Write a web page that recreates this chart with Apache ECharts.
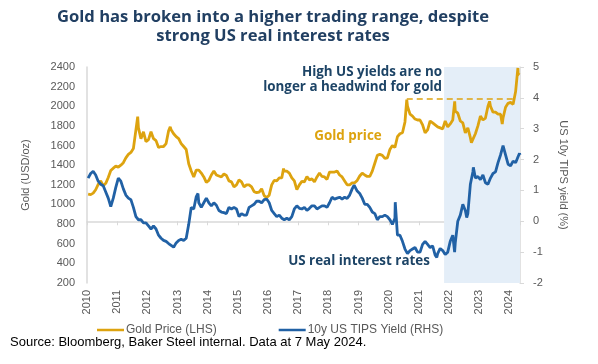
<!DOCTYPE html>
<html>
<head>
<meta charset="utf-8">
<script src="https://cdn.jsdelivr.net/npm/echarts@6/dist/echarts.min.js"></script>
<style>
html,body{margin:0;padding:0;background:#fff;}
#chart{width:598px;height:364px;}
</style>
</head>
<body>
<div id="chart"></div>
<script>
// ---- Data ----
const xTickYears = [2010,2011,2012,2013,2014,2015,2016,2017,2018,2019,2020,2021,2022,2023,2024];
const lastDate = '2024-05-07';

// Gold price, monthly (USD/oz), Jan 2010 .. May 2024
const goldMonthly = [
  1105,1100,1115,1150,1205,1240,1190,1215,1275,1345,1370,1390,
  1380,1400,1425,1475,1510,1530,1570,1760,1780,1670,1740,1640,
  1660,1740,1670,1650,1580,1590,1590,1620,1750,1760,1720,1690,
  1670,1620,1590,1560,1415,1340,1280,1350,1350,1320,1280,1225,
  1245,1300,1340,1300,1290,1280,1310,1295,1240,1230,1180,1200,
  1250,1230,1180,1200,1200,1180,1130,1120,1125,1160,1090,1070,
  1095,1200,1245,1240,1270,1270,1340,1340,1320,1270,1240,1150,
  1200,1235,1230,1285,1250,1260,1230,1280,1320,1285,1280,1255,
  1330,1330,1330,1340,1300,1280,1240,1200,1200,1220,1220,1245,
  1290,1320,1300,1285,1285,1340,1420,1500,1510,1500,1470,1475,
  1560,1600,1580,1690,1720,1730,1840,2000,1920,1900,1870,1860,
  1860,1810,1730,1760,1850,1830,1810,1790,1780,1770,1850,1790,
  1820,1860,1950,1930,1850,1830,1730,1780,1680,1650,1720,1800,
  1900,1860,1880,2000,2000,1940,1940,1920,1920,1880,1990,2030,
  2040,2020,2150,2330,2320
];
// Gold notable extremes
const goldExtremeDates  = ['2011-09-06','2012-10-04','2015-12-17','2016-07-06','2020-08-06','2022-03-08','2022-09-28','2023-05-04','2023-10-05','2024-04-12','2024-05-07'];
const goldExtremeValues = [1895,1790,1050,1365,2067,2050,1630,2050,1820,2390,2315];

// US 10y TIPS yield, monthly (%), Jan 2010 .. May 2024
const tipsMonthly = [
  1.40,1.55,1.62,1.50,1.30,1.20,1.15,0.95,0.75,0.48,0.75,1.10,
  1.40,1.30,1.05,0.85,0.75,0.70,0.45,0.15,0.05,0.05,-0.05,-0.05,
  -0.15,-0.25,-0.15,-0.25,-0.45,-0.55,-0.62,-0.65,-0.72,-0.78,-0.84,-0.70,
  -0.62,-0.58,-0.62,-0.55,-0.10,0.45,0.40,0.80,0.60,0.45,0.60,0.75,
  0.60,0.50,0.60,0.52,0.35,0.30,0.28,0.25,0.45,0.40,0.45,0.40,
  0.15,0.25,0.20,0.20,0.45,0.50,0.55,0.65,0.65,0.60,0.70,0.72,
  0.60,0.35,0.25,0.15,0.20,0.10,0.05,0.10,0.05,0.15,0.40,0.50,
  0.42,0.40,0.45,0.35,0.42,0.50,0.50,0.40,0.45,0.50,0.50,0.45,
  0.60,0.78,0.72,0.75,0.78,0.72,0.78,0.74,0.85,1.05,1.15,0.98,
  0.90,0.75,0.55,0.55,0.45,0.30,0.25,0.05,0.15,0.15,0.20,0.15,
  0.05,-0.10,0.10,-0.45,-0.45,-0.65,-0.90,-1.05,-0.95,-0.90,-0.85,-1.00,
  -1.00,-0.75,-0.65,-0.75,-0.85,-0.80,-1.10,-1.05,-0.88,-0.95,-1.08,-1.00,
  -0.65,-0.45,-0.70,0.00,0.20,0.55,0.35,0.25,1.20,1.60,1.40,1.45,
  1.35,1.50,1.25,1.20,1.40,1.55,1.60,1.90,2.15,2.45,2.15,1.85,
  1.80,1.95,1.90,2.10,2.20
];
const tipsExtremeDates  = ['2012-11-15','2013-09-05','2018-11-08','2020-03-19','2021-08-04','2022-03-07','2022-08-01','2022-10-21','2023-10-19','2024-05-07'];
const tipsExtremeValues = [-0.87,0.90,1.17,0.62,-1.17,-1.00,0.12,1.75,2.50,2.15];

// Highlight period and reference level
const shadeStart = '2021-11-01';
const refLevelGold = 2075;
const refLineStart = '2020-08-06';
const refLineEnd = '2024-02-15';

// ---- Helpers ----
function toYear(s){
  const p = s.split('-').map(Number);
  return p[0] + ((p[1]-1) + (p[2]-1)/31)/12;
}
const monthDates = [];
for (let y = 2010; y <= 2024; y++) {
  for (let m = 1; m <= 12; m++) {
    if (y === 2024 && m > 5) break;
    monthDates.push(y + '-' + String(m).padStart(2,'0') + '-' + (y === 2024 && m === 5 ? '01' : '15'));
  }
}
function buildSeries(dates, vals, exDates, exVals){
  const pts = dates.map((d,i)=>[toYear(d), vals[i]]);
  exDates.forEach((d,i)=>pts.push([toYear(d), exVals[i]]));
  pts.sort((a,b)=>a[0]-b[0]);
  return pts;
}
const goldData = buildSeries(monthDates, goldMonthly, goldExtremeDates, goldExtremeValues);
const tipsData = buildSeries(monthDates, tipsMonthly, tipsExtremeDates, tipsExtremeValues);

const GOLD = '#DDA30F';
const BLUE = '#2161A5';
const NAVY = '#1D4466';
const GREY = '#595959';
const AXIS = '#D9D9D9';

const chart = echarts.init(document.getElementById('chart'), null, {renderer:'canvas'});
chart.setOption({
  animation: false,
  backgroundColor: '#ffffff',
  title: {
    text: 'Gold has broken into a higher trading range, despite\nstrong US real interest rates',
    left: 268, top: 3, textAlign: 'center',
    textStyle: {fontFamily: 'Open Sans', fontWeight: 'bold', fontSize: 16.6, color: '#213F62', lineHeight: 19}
  },
  legend: {
    left: 92, top: 319,
    itemWidth: 27, itemHeight: 2.5, itemGap: 62,
    icon: 'rect',
    textStyle: {fontFamily: 'Liberation Sans', fontSize: 12, color: GREY, padding:[0,0,0,-3]},
    data: ['Gold Price (LHS)', '10y US TIPS Yield (RHS)']
  },
  grid: {left: 87, right: 78, top: 67, bottom: 81},
  xAxis: {
    type: 'value', min: 2010, max: toYear(lastDate), interval: 1,
    axisLine: {show: true, lineStyle: {color: AXIS, width: 1.5}},
    axisTick: {show: true, length: 4, lineStyle: {color: AXIS}},
    splitLine: {show: false},
    axisLabel: {
      rotate: 90, margin: 7, color: GREY, fontFamily: 'Liberation Sans', fontSize: 11,
      formatter: v => (Math.abs(v - Math.round(v)) < 1e-6 && xTickYears.includes(Math.round(v))) ? String(Math.round(v)) : ''
    }
  },
  yAxis: [
    {
      type: 'value', min: 200, max: 2400, interval: 200, position: 'left',
      name: 'Gold (USD/oz)', nameLocation: 'middle', nameGap: 56,
      nameTextStyle: {color: GREY, fontFamily: 'Liberation Sans', fontSize: 11},
      axisLine: {show: true, lineStyle: {color: AXIS, width: 1.5}},
      axisTick: {show: false},
      splitLine: {show: false},
      axisLabel: {color: GREY, fontFamily: 'Liberation Sans', fontSize: 11, margin: 12, formatter: v => String(v)}
    },
    {
      type: 'value', min: -2, max: 5, interval: 1, position: 'right',
      name: 'US 10y TIPS yield (%)', nameLocation: 'middle', nameGap: 38, nameRotate: -90,
      nameTextStyle: {color: GREY, fontFamily: 'Liberation Sans', fontSize: 11},
      axisLine: {show: true, lineStyle: {color: AXIS, width: 1.5}},
      axisTick: {show: true, length: 4, lineStyle: {color: AXIS}},
      splitLine: {show: false},
      axisLabel: {color: GREY, fontFamily: 'Liberation Sans', fontSize: 11, margin: 13}
    }
  ],
  series: [
    {
      name: 'Gold Price (LHS)', type: 'line', yAxisIndex: 0,
      data: goldData, showSymbol: false, color: GOLD,
      lineStyle: {width: 2.8, color: GOLD}, z: 3,
      markArea: {
        silent: true,
        itemStyle: {color: '#E4EEF8'},
        data: [[{xAxis: toYear(shadeStart)}, {xAxis: toYear(lastDate)}]]
      },
      markLine: {
        silent: true, symbol: 'none', label: {show: false},
        lineStyle: {type: [6,4], color: GOLD, width: 1.5},
        data: [[{coord: [toYear(refLineStart), refLevelGold]}, {coord: [toYear(refLineEnd), refLevelGold]}]]
      }
    },
    {
      name: '10y US TIPS Yield (RHS)', type: 'line', yAxisIndex: 1,
      data: tipsData, showSymbol: false, color: BLUE,
      lineStyle: {width: 2.8, color: BLUE}, z: 4
    }
  ],
  graphic: [
    {type: 'text', x: 442, y: 65, style: {text: 'High US yields are no\nlonger a headwind for gold', align: 'right', fill: NAVY, font: 'bold 13.4px "Open Sans"', lineHeight: 15}},
    {type: 'text', x: 348, y: 130, style: {text: 'Gold price', align: 'center', fill: GOLD, font: 'bold 13.4px "Open Sans"'}},
    {type: 'text', x: 359, y: 255, style: {text: 'US real interest rates', align: 'center', fill: NAVY, font: 'bold 13.4px "Open Sans"'}},
    {type: 'text', x: 10, y: 336, style: {text: 'Source: Bloomberg, Baker Steel internal. Data at 7 May 2024.', fill: '#000000', font: '13px "Liberation Sans"'}}
  ]
});
</script>
</body>
</html>
